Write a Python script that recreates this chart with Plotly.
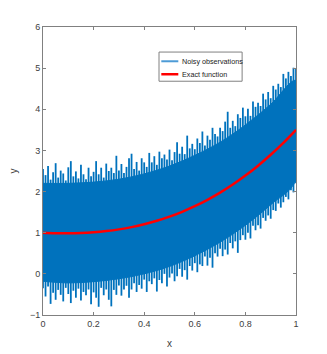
import plotly.graph_objects as go

# ---- data ----
x_obs = [i / 100 for i in range(101)]
# spike tips of the noisy observations (upper / lower extremes per 0.01 step)
noise_upper = [2.55, 2.40, 2.62, 2.29, 2.47, 2.69, 2.34, 2.51, 2.44, 2.27,
               2.59, 2.74, 2.37, 2.49, 2.32, 2.65, 2.42, 2.30, 2.58, 2.37,
               2.48, 2.74, 2.42, 2.58, 2.34, 2.68, 2.50, 2.58, 2.45, 2.87,
               2.51, 2.67, 2.45, 2.60, 2.81, 2.92, 2.55, 2.72, 2.51, 2.81,
               2.71, 2.60, 2.94, 2.71, 2.86, 2.65, 2.97, 2.81, 2.90, 2.78,
               3.02, 2.76, 2.96, 3.20, 2.92, 3.09, 2.91, 3.36, 3.05, 3.16,
               3.03, 3.29, 3.18, 3.46, 3.12, 3.36, 3.26, 3.55, 3.40, 3.34,
               3.55, 3.47, 3.70, 3.94, 3.55, 3.72, 3.59, 3.88, 3.79, 4.04,
               3.83, 4.01, 3.84, 4.19, 4.06, 4.16, 4.08, 4.38, 4.24, 4.42,
               4.27, 4.57, 4.48, 4.62, 4.54, 4.86, 4.75, 4.91, 4.81, 5.01,
               5.00]
noise_lower = [-0.35, -0.55, -0.31, -0.73, -0.46, -0.63, -0.39, -0.51, -0.67, -0.34,
               -0.49, -0.71, -0.41, -0.58, -0.36, -0.65, -0.44, -0.52, -0.38, -0.74,
               -0.45, -0.58, -0.80, -0.34, -0.52, -0.38, -0.63, -0.79, -0.39, -0.51,
               -0.28, -0.53, -0.38, -0.29, -0.58, -0.38, -0.23, -0.44, -0.27, -0.36,
               -0.14, -0.44, -0.18, -0.25, -0.11, -0.43, -0.15, -0.23, 0.00, -0.31,
               -0.09, 0.01, -0.18, -0.06, 0.12, -0.07, 0.09, -0.14, 0.19, 0.08,
               0.26, 0.04, 0.23, 0.19, 0.42, 0.20, 0.39, 0.15, 0.50, 0.42,
               0.61, 0.43, 0.59, 0.47, 0.75, 0.62, 0.79, 0.51, 0.82, 0.94,
               0.83, 1.00, 0.86, 1.17, 1.06, 1.18, 1.10, 1.36, 1.29, 1.42,
               1.34, 1.55, 1.53, 1.71, 1.61, 1.74, 1.87, 1.81, 2.03, 1.98,
               2.20]
# solid core of the noisy band
x_core = [0.0, 0.1, 0.2, 0.3, 0.4, 0.5, 0.6, 0.7, 0.8, 0.9, 1.0]
core_upper = [2.20, 2.20, 2.23, 2.30, 2.43, 2.62, 2.88, 3.20, 3.62, 4.12, 4.70]
core_lower = [-0.18, -0.22, -0.19, -0.12, 0.00, 0.18, 0.44, 0.77, 1.18, 1.68, 2.28]
# exact function
x_exact = [0.00, 0.05, 0.10, 0.15, 0.20, 0.25, 0.30, 0.35, 0.40, 0.45, 0.50,
           0.55, 0.60, 0.65, 0.70, 0.75, 0.80, 0.85, 0.90, 0.95, 1.00]
y_exact = [1.000, 0.989, 0.986, 0.993, 1.011, 1.040, 1.081, 1.136, 1.205, 1.289, 1.390,
           1.508, 1.644, 1.799, 1.974, 2.170, 2.388, 2.629, 2.894, 3.184, 3.500]
x_ticks = [0, 0.2, 0.4, 0.6, 0.8, 1]
x_tick_text = ["0", "0.2", "0.4", "0.6", "0.8", "1"]
y_ticks = [-1, 0, 1, 2, 3, 4, 5, 6]
legend_labels = ["Noisy observations", "Exact function"]

BLUE = "#0072BD"
BLUE_LEG = "#4D9BD6"
RED = "#FF0000"
FONT = "Liberation Sans Narrow, Liberation Sans, Arial, sans-serif"
AXC = "#808080"
TXT = "#404040"

fig = go.Figure()
# spikes: each observation column from its lower to its upper extreme
sx, sy = [], []
for xv, lo, hi in zip(x_obs, noise_lower, noise_upper):
    sx += [xv, xv, None]
    sy += [lo, hi, None]
fig.add_trace(go.Scatter(x=sx, y=sy, mode="lines", name=legend_labels[0],
                         line=dict(color=BLUE, width=1.8),
                         showlegend=False, hoverinfo="skip"))
# solid core drawn over the spikes
fig.add_trace(go.Scatter(
    x=x_core + x_core[::-1], y=core_upper + core_lower[::-1],
    mode="lines", fill="toself", fillcolor=BLUE,
    line=dict(color=BLUE, width=1, shape="spline"), showlegend=False, hoverinfo="skip"))
fig.add_trace(go.Scatter(x=x_exact, y=y_exact, mode="lines", name=legend_labels[1],
                         showlegend=False,
                         line=dict(color=RED, width=2.5, shape="spline")))

axis_common = dict(showgrid=False, zeroline=False, showline=True, linecolor=AXC,
                   linewidth=1, mirror="allticks", ticks="inside", ticklen=3,
                   tickcolor=AXC, automargin=False,
                   tickfont=dict(family=FONT, size=9, color=TXT))
fig.update_xaxes(range=[0, 1], tickvals=x_ticks, ticktext=x_tick_text,
                 title=dict(text="x", font=dict(family=FONT, size=10, color=TXT), standoff=12),
                 **axis_common)
fig.update_yaxes(range=[-1, 6], tickvals=y_ticks,
                 title=dict(text="y", font=dict(family=FONT, size=10, color=TXT), standoff=13),
                 **axis_common)

# MATLAB-style compact legend box
leg_x0, leg_x1, leg_y0, leg_y1 = 0.4585, 0.787, 0.8117, 0.913
row_y = [0.881, 0.836]
row_col = [BLUE_LEG, RED]
row_w = [2, 2.5]
shapes = [dict(type="rect", xref="paper", yref="paper", x0=leg_x0, x1=leg_x1,
               y0=leg_y0, y1=leg_y1, line=dict(color=AXC, width=1), fillcolor="white",
               layer="above")]
annotations = []
for lab, yy, col, w in zip(legend_labels, row_y, row_col, row_w):
    shapes.append(dict(type="line", xref="paper", yref="paper", x0=0.4676, x1=0.5348,
                       y0=yy, y1=yy, line=dict(color=col, width=w), layer="above"))
    annotations.append(dict(xref="paper", yref="paper", x=0.5427, y=yy, text=lab,
                            showarrow=False, xanchor="left", yanchor="middle",
                            font=dict(family=FONT, size=7.2, color="#222222")))

fig.update_layout(
    width=319, height=346, plot_bgcolor="white", paper_bgcolor="white",
    margin=dict(l=35, r=31, t=19, b=39),
    showlegend=False, shapes=shapes, annotations=annotations,
)
fig.write_html("out.html")
